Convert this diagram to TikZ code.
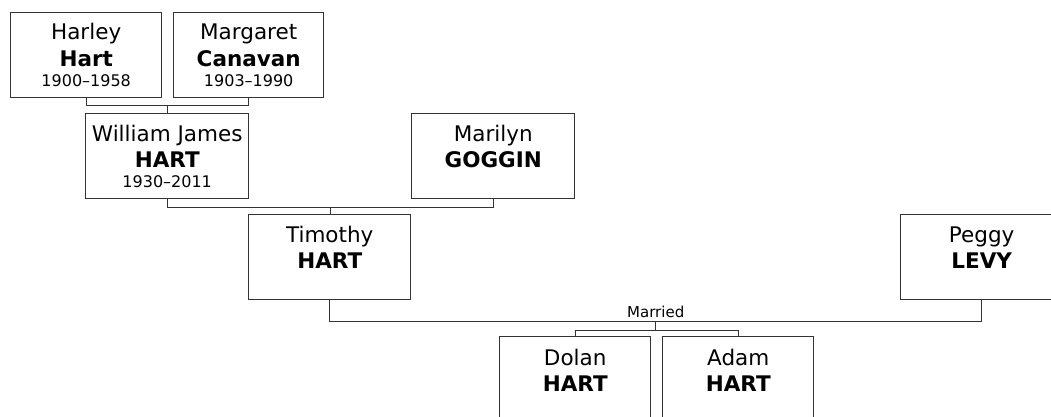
\documentclass[tikz,border=0pt]{standalone}
\usepackage{fontspec}
\setmainfont{DejaVu Sans}
\usetikzlibrary{calc}
\begin{document}
\begin{tikzpicture}[x=1pt,y=-1pt,
  person/.style={draw=black!80, line width=1.4pt, fill=white, inner sep=0pt, anchor=north west, minimum height=85pt},
  conn/.style={draw=black!80, line width=1.4pt},
  nm/.style={anchor=base, inner sep=0pt, font=\fontsize{21.5}{25}\selectfont},
  sn/.style={anchor=base, inner sep=0pt, font=\fontsize{21.5}{25}\selectfont\bfseries},
  dt/.style={anchor=base, inner sep=0pt, font=\fontsize{16}{19}\selectfont},
  lbl/.style={anchor=base, inner sep=0pt, font=\fontsize{15}{18}\selectfont}
]
\useasboundingbox (0,0) rectangle (1051,417);
\clip (0,0) rectangle (1051,417);

% boxes
\node[person, minimum width=151pt] (harley) at (10,12) {};
\node[person, minimum width=150pt] (margaret) at (173,12) {};
\node[person, minimum width=163pt] (william) at (85,113) {};
\node[person, minimum width=163pt] (marilyn) at (411,113) {};
\node[person, minimum width=162pt] (timothy) at (248,214) {};
\node[person, minimum width=162pt] (peggy) at (900,214) {};
\node[person, minimum width=151pt] (dolan) at (499,336) {};
\node[person, minimum width=151pt] (adam) at (662,336) {};

% texts
\node[nm] (harley-f) at ($(harley.north)+(0,28)$) {Harley};
\node[sn] (harley-s) at ($(harley.north)+(0,55)$) {Hart};
\node[dt] (harley-d) at ($(harley.north)+(0,75)$) {1900–1958};

\node[nm] (margaret-f) at ($(margaret.north)+(0,28)$) {Margaret};
\node[sn] (margaret-s) at ($(margaret.north)+(0,55)$) {Canavan};
\node[dt] (margaret-d) at ($(margaret.north)+(0,75)$) {1903–1990};

\node[nm] (william-f) at ($(william.north)+(0,28)$) {William James};
\node[sn] (william-s) at ($(william.north)+(0,54)$) {HART};
\node[dt] (william-d) at ($(william.north)+(0,74)$) {1930–2011};

\node[nm] (marilyn-f) at ($(marilyn.north)+(0,28)$) {Marilyn};
\node[sn] (marilyn-s) at ($(marilyn.north)+(0,54)$) {GOGGIN};

\node[nm] (timothy-f) at ($(timothy.north)+(0,28)$) {Timothy};
\node[sn] (timothy-s) at ($(timothy.north)+(0,54)$) {HART};

\node[nm] (peggy-f) at ($(peggy.north)+(0,28)$) {Peggy};
\node[sn] (peggy-s) at ($(peggy.north)+(0,54)$) {LEVY};

\node[nm] (dolan-f) at ($(dolan.north)+(0,29)$) {Dolan};
\node[sn] (dolan-s) at ($(dolan.north)+(0,55)$) {HART};

\node[nm] (adam-f) at ($(adam.north)+(0,29)$) {Adam};
\node[sn] (adam-s) at ($(adam.north)+(0,55)$) {HART};

% connectors
\draw[conn] (harley.south) -- ++(0,7) -| (margaret.south);
\coordinate (j1) at ($(harley.south)!0.5!(margaret.south)+(0,7)$);
\draw[conn] (j1) -- (j1 |- william.north);

\draw[conn] (william.south) -- ++(0,8) -| (marilyn.south);
\coordinate (j2) at ($(william.south)!0.5!(marilyn.south)+(0,8)$);
\draw[conn] (j2) -- (j2 |- timothy.north);

\draw[conn] (timothy.south) -- ++(0,21) -| (peggy.south);
\coordinate (j3) at ($(timothy.south)!0.5!(peggy.south)+(0,21)$);
\node[lbl] (married) at ($(j3)+(0,-3.5)$) {Married};
\coordinate (k) at ($(j3)+(0,9)$);
\draw[conn] (j3) -- (k);
\draw[conn] (dolan.north) -- (dolan.north |- k) -- (adam.north |- k) -- (adam.north);
\end{tikzpicture}
\end{document}
